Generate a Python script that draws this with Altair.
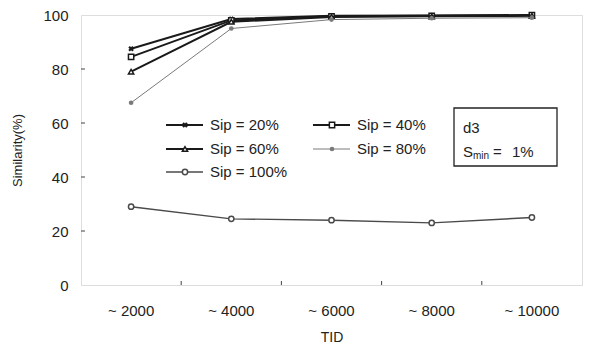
import altair as alt
import pandas as pd

# ---- data ----
tid = ["~ 2000", "~ 4000", "~ 6000", "~ 8000", "~ 10000"]
series = ["Sip = 20%", "Sip = 40%", "Sip = 60%", "Sip = 80%", "Sip = 100%"]
sip20 = [87.5, 98.5, 99.7, 99.8, 100.0]
sip40 = [84.5, 98.0, 99.5, 99.7, 99.9]
sip60 = [79.0, 97.5, 99.3, 99.5, 99.7]
sip80 = [67.5, 95.0, 98.3, 98.8, 99.0]
sip100 = [29.0, 24.5, 24.0, 23.0, 25.0]
y_ticks = [0, 20, 40, 60, 80, 100]

values = [sip20, sip40, sip60, sip80, sip100]
rows = []
for s, vals in zip(series, values):
    for t, v in zip(tid, vals):
        rows.append({"series": s, "tid": t, "sim": v})
df = pd.DataFrame(rows)

FONT = "Liberation Sans"
W, H = 501, 270

# styles per series
colors = {"Sip = 20%": "#1a1a1a", "Sip = 40%": "#1a1a1a", "Sip = 60%": "#1a1a1a",
          "Sip = 80%": "#7a7a7a", "Sip = 100%": "#4a4a4a"}
widths = {"Sip = 20%": 2.0, "Sip = 40%": 2.0, "Sip = 60%": 2.0,
          "Sip = 80%": 1.0, "Sip = 100%": 1.4}
shapes = {"Sip = 20%": "cross", "Sip = 40%": "square", "Sip = 60%": "triangle-up",
          "Sip = 80%": "circle", "Sip = 100%": "circle"}
filled = {"Sip = 20%": True, "Sip = 40%": False, "Sip = 60%": False,
          "Sip = 80%": True, "Sip = 100%": False}
angles = {"Sip = 20%": 45, "Sip = 40%": 0, "Sip = 60%": 0, "Sip = 80%": 0, "Sip = 100%": 0}
sizes = {"Sip = 20%": 32, "Sip = 40%": 28, "Sip = 60%": 28, "Sip = 80%": 22, "Sip = 100%": 28}

xenc = alt.X("tid:N", sort=tid, scale=alt.Scale(paddingInner=0, paddingOuter=0),
             axis=alt.Axis(title="TID", labelFont=FONT, titleFont=FONT, labelFontSize=15,
                           titleFontSize=14, titleFontWeight="normal", labelAngle=0,
                           labelColor="#222", titleColor="#222", ticks=False, domain=False,
                           labelPadding=18, titlePadding=12))
yenc = alt.Y("sim:Q", scale=alt.Scale(domain=[0, 100], nice=False),
             axis=alt.Axis(title="Similarity(%)", values=y_ticks, labelFont=FONT,
                           titleFont=FONT, labelFontSize=15, titleFontSize=13,
                           titleFontWeight="normal", grid=False, ticks=False, domain=False,
                           labelPadding=13, labelColor="#222", titleColor="#222",
                           titlePadding=18))

layers = []
for s in series:
    d = df[df.series == s]
    base = alt.Chart(d).encode(x=xenc, y=yenc)
    layers.append(base.mark_line(color=colors[s], strokeWidth=widths[s]))
    pt = dict(shape=shapes[s], size=sizes[s], angle=angles[s], strokeWidth=1.5,
              color=colors[s], opacity=1)
    if filled[s]:
        layers.append(base.mark_point(filled=True, **pt))
    else:
        layers.append(base.mark_point(filled=False, fill="white", **pt))

# inward ticks
ytick_df = pd.DataFrame({"v": y_ticks[1:-1]})
layers.append(alt.Chart(ytick_df).mark_rule(color="#444", strokeWidth=1).encode(
    y=alt.Y("v:Q", scale=alt.Scale(domain=[0, 100], nice=False)),
    x=alt.value(0), x2=alt.value(4)))
xtick_df = pd.DataFrame({"tid": tid[1:]})
layers.append(alt.Chart(xtick_df).mark_rule(color="#444", strokeWidth=1).encode(
    x=alt.X("tid:N", sort=tid, bandPosition=0),
    y=alt.value(H), y2=alt.value(H - 4)))

# legend (manual, pixel positions in plot coords)
leg_pos = [(85, 110), (232, 110), (85, 134), (232, 134), (85, 157)]
for s, (lx, ly) in zip(series, leg_pos):
    one = pd.DataFrame({"label": [s]})
    c = alt.Chart(one)
    layers.append(c.mark_rule(color=colors[s], strokeWidth=widths[s]).encode(
        x=alt.value(lx), x2=alt.value(lx + 37), y=alt.value(ly)))
    pt = dict(shape=shapes[s], size=sizes[s], angle=angles[s], strokeWidth=1.5,
              color=colors[s], opacity=1)
    if filled[s]:
        layers.append(c.mark_point(filled=True, **pt).encode(
            x=alt.value(lx + 19), y=alt.value(ly)))
    else:
        layers.append(c.mark_point(filled=False, fill="white", **pt).encode(
            x=alt.value(lx + 19), y=alt.value(ly)))
    layers.append(c.mark_text(align="left", baseline="middle", font=FONT, fontSize=15,
                              color="#222").encode(
        x=alt.value(lx + 44), y=alt.value(ly), text="label:N"))

# annotation box
box = pd.DataFrame({"t": ["d3"]})
layers.append(alt.Chart(box).mark_rect(fill="white", stroke="#222", strokeWidth=1.3).encode(
    x=alt.value(373), x2=alt.value(476), y=alt.value(93), y2=alt.value(151)))
ann = [("d3", 382, 113, 15), ("S", 382, 137, 15), ("min", 392, 141, 10),
       ("=", 412, 137, 15), ("1%", 431, 137, 15)]
for txt, ax, ay, fs in ann:
    layers.append(alt.Chart(pd.DataFrame({"t": [txt]})).mark_text(
        align="left", baseline="middle", font=FONT, fontSize=fs, color="#222").encode(
        x=alt.value(ax), y=alt.value(ay), text="t:N"))

chart = alt.layer(*layers).properties(
    width=W, height=H,
    autosize=alt.AutoSizeParams(type="none"),
    padding={"left": 73, "top": 7, "right": 2, "bottom": 58},
).configure_view(stroke="#111", strokeWidth=1.5).configure(background="white")

chart.save("out.html", embed_options={"renderer": "svg", "actions": False})
